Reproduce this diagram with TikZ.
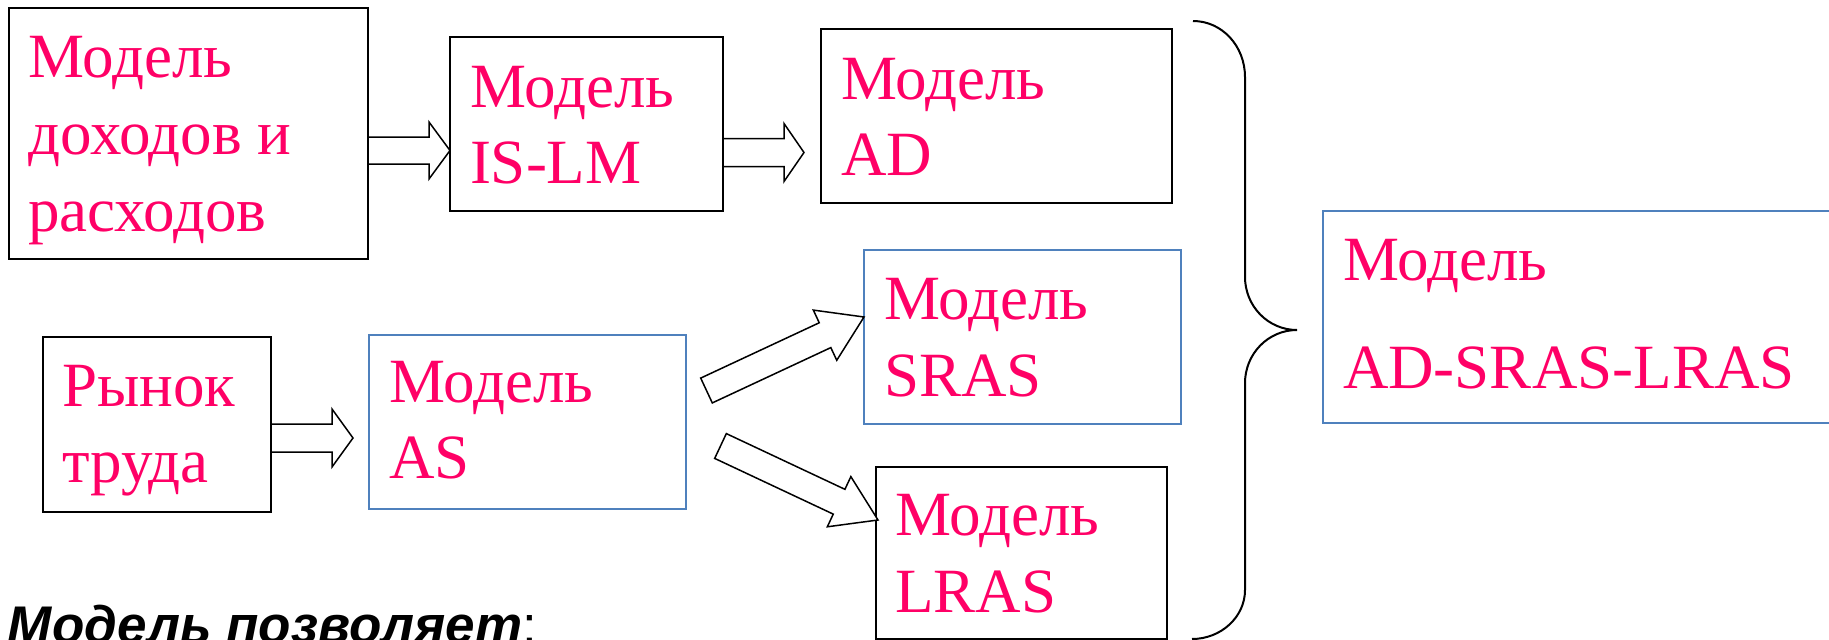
\documentclass[tikz,border=0pt]{standalone}
\usepackage{fontspec}
\setmainfont{Liberation Serif}
\newfontfamily\lblfont{Liberation Serif}
\newfontfamily\notefont{Liberation Sans}
\usetikzlibrary{calc}
\definecolor{txtmag}{HTML}{FF0066}
\definecolor{boxblue}{HTML}{4F81BD}
\tikzset{
  bbox/.style={draw=black, line width=1.8pt, inner sep=0pt, outer sep=0pt, anchor=north west},
  blbox/.style={bbox, draw=boxblue, line width=1.5pt},
  lbl/.style={anchor=base west, inner sep=0pt, outer sep=0pt, text=txtmag, font=\lblfont\fontsize{63}{77}\selectfont},
  barrow/.style={draw=black, fill=white, line width=1.5pt, line join=miter},
  bracestyle/.style={draw=black, line width=2pt},
}
% #1 name, #2 tail, #3 tip, #4 shaft half width, #5 head half width, #6 head length
\newcommand\blockarrow[6]{%
  \coordinate (#1h) at ($(#3)!#6!(#2)$);
  \draw[barrow] ($(#2)!#4!90:(#3)$) -- ($(#1h)!#4!90:(#3)$) -- ($(#1h)!#5!90:(#3)$) -- (#3)
    -- ($(#1h)!#5!-90:(#3)$) -- ($(#1h)!#4!-90:(#3)$) -- ($(#2)!#4!-90:(#3)$) -- cycle;}
\begin{document}
\begin{tikzpicture}[x=1pt,y=-1pt]
\useasboundingbox (0,0) rectangle (1829,640);
\fill[white] (0,0) rectangle (1829,640);

% boxes
\node[bbox, minimum width=359pt, minimum height=251pt] (b1) at (9,8) {};
\node[bbox, minimum width=273pt, minimum height=174pt] (b2) at (450,37) {};
\node[bbox, minimum width=351pt, minimum height=174pt] (b3) at (821,29) {};
\node[blbox, minimum width=317pt, minimum height=174pt] (sras) at (864,250) {};
\node[bbox, minimum width=291pt, minimum height=172pt] (lras) at (876,467) {};
\node[bbox, minimum width=228pt, minimum height=175pt] (rynok) at (43,337) {};
\node[blbox, minimum width=317pt, minimum height=174pt] (as) at (369,335) {};
\node[blbox, minimum width=517pt, minimum height=212pt] (big) at (1323,211) {};

% texts
\node[lbl] (b1a) at ($(b1.north west)+(19,69)$) {Модель};
\node[lbl] (b1b) at ($(b1.north west)+(19,146)$) {доходов и};
\node[lbl] (b1c) at ($(b1.north west)+(19,223)$) {расходов};
\node[lbl] (b2a) at ($(b2.north west)+(20,70)$) {Модель};
\node[lbl] (b2b) at ($(b2.north west)+(20,146)$) {IS-LM};
\node[lbl] (b3a) at ($(b3.north west)+(20,70)$) {Модель};
\node[lbl] (b3b) at ($(b3.north west)+(20,146)$) {AD};
\node[lbl] (srasa) at ($(sras.north west)+(20,69)$) {Модель};
\node[lbl] (srasb) at ($(sras.north west)+(20,146)$) {SRAS};
\node[lbl] (lrasa) at ($(lras.north west)+(19,68)$) {Модель};
\node[lbl] (lrasb) at ($(lras.north west)+(19,145)$) {LRAS};
\node[lbl] (rynoka) at ($(rynok.north west)+(19,69)$) {Рынок};
\node[lbl] (rynokb) at ($(rynok.north west)+(19,145)$) {труда};
\node[lbl] (asa) at ($(as.north west)+(20,67)$) {Модель};
\node[lbl] (asb) at ($(as.north west)+(20,143)$) {AS};
\node[lbl] (biga) at ($(big.north west)+(20,69)$) {Модель};
\node[lbl] (bigb) at ($(big.north west)+(20,177)$) {AD-SRAS-LRAS};

% block arrows
\coordinate (a1s) at (b1.east |- 0,150.5);
\coordinate (a1e) at (b2.west |- 0,150.5);
\blockarrow{a1}{a1s}{a1e}{13.5pt}{28.5pt}{21pt}
\coordinate (a2s) at (b2.east |- 0,152.5);
\coordinate (a2e) at ($(b3.west |- 0,152.5)+(-17,0)$);
\blockarrow{a2}{a2s}{a2e}{14pt}{29pt}{20pt}
\coordinate (a3s) at (rynok.east |- 0,438);
\coordinate (a3e) at ($(as.west |- 0,438)+(-16,0)$);
\blockarrow{a3}{a3s}{a3e}{14pt}{29pt}{21pt}
\coordinate (a4s) at ($(as.north east)+(20.5,55.5)$);
\coordinate (a4e) at ($(sras.north west)+(0,67)$);
\blockarrow{a4}{a4s}{a4e}{13.7pt}{27.7pt}{43pt}
\coordinate (a5s) at ($(as.north east)+(34.5,111)$);
\coordinate (a5e) at ($(lras.north west)+(2,53)$);
\blockarrow{a5}{a5s}{a5e}{13.7pt}{27.7pt}{43pt}

% brace
\coordinate (brtop) at (1193,21);
\coordinate (brtip) at (1297,330);
\coordinate (brbot) at (1192,639);
\draw[bracestyle] (brtop) .. controls (1222,21) and (1245,46) .. (1245,77)
  -- (1245,277) .. controls (1245,306) and (1268,330) .. (brtip)
  .. controls (1268,330) and (1245,354) .. (1245,383)
  -- (1245,590) .. controls (1245,617) and (1221,639) .. (brbot);

% note
\node[anchor=base west, inner sep=0pt, outer sep=0pt, font=\notefont\bfseries\itshape\fontsize{53}{64}\selectfont] (note) at (8,643) {Модель позволяет{\mdseries\upshape :}};
\end{tikzpicture}
\end{document}
